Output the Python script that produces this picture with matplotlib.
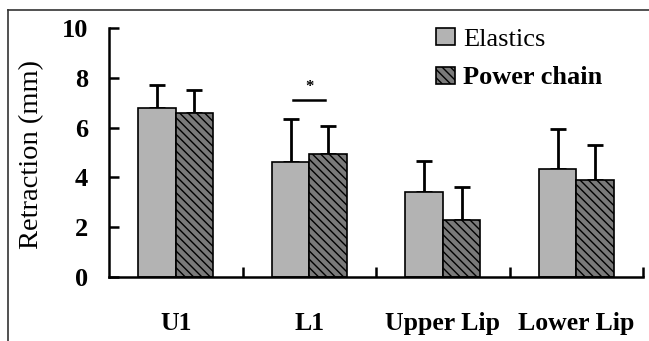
import matplotlib
matplotlib.use('Agg')
import matplotlib.pyplot as plt
from matplotlib.lines import Line2D
import numpy as np

categories = ['U1', 'L1', 'Upper Lip', 'Lower Lip']
elastics = [6.8, 4.6, 3.4, 4.35]
elastics_sd = [0.9, 1.75, 1.25, 1.6]
power_chain = [6.6, 4.95, 2.3, 3.9]
power_chain_sd = [0.9, 1.1, 1.3, 1.4]
yticks = [0, 2, 4, 6, 8, 10]

plt.rcParams['font.family'] = 'serif'
plt.rcParams['font.serif'] = ['Liberation Serif', 'DejaVu Serif']
plt.rcParams['hatch.linewidth'] = 1.0
plt.rcParams['hatch.color'] = '#666666'

fig = plt.figure(figsize=(6.49, 3.41), dpi=100)
ax = fig.add_axes([0.168, 0.188, 0.823, 0.730])

x = np.arange(len(categories))
w = 0.28
zeros = np.zeros(len(categories))

ax.bar(x - w / 2, elastics, w, color='#b3b3b3', edgecolor='black', linewidth=1.2,
       label='Elastics', zorder=2)
ax.bar(x + w / 2, power_chain, w, color='#7a7a7a', edgecolor='black', linewidth=1.2,
       hatch='\\\\\\\\', label='Power chain', zorder=2)
ax.errorbar(x - w / 2, elastics, yerr=[zeros, elastics_sd], fmt='none', ecolor='black',
            elinewidth=2, capsize=6, capthick=2, zorder=1)
ax.errorbar(x + w / 2, power_chain, yerr=[zeros, power_chain_sd], fmt='none', ecolor='black',
            elinewidth=2, capsize=6, capthick=2, zorder=1)

# significance marker on L1
ax.plot([1 - w / 2 + 0.02, 1 + w / 2 - 0.02], [7.1, 7.1], color='black', lw=1.8)
ax.text(1, 7.3, '*', ha='center', va='bottom', fontsize=12, fontweight='bold')

ax.set_xlim(-0.5, 3.5)
ax.set_ylim(0, 10)
ax.set_yticks(yticks)
ax.set_xticks(x)
ax.set_xticklabels(categories, fontsize=18.5, fontweight='bold')
ax.set_xticks(x + 0.5, minor=True)
ax.tick_params(axis='x', which='major', length=0, pad=25)
ax.tick_params(axis='x', which='minor', direction='in', length=7, width=1.8)
ax.tick_params(axis='y', direction='in', length=7, width=1.8, pad=15, labelsize=19)
for lab in ax.get_yticklabels():
    lab.set_fontweight('bold')

ax.spines['top'].set_visible(False)
ax.spines['right'].set_visible(False)
ax.spines['left'].set_linewidth(1.8)
ax.spines['bottom'].set_linewidth(1.8)

ax.set_ylabel('Retraction (mm)', fontsize=20.5)
ax.yaxis.set_label_coords(-0.122, 0.49)

leg = ax.legend(loc='upper left', bbox_to_anchor=(0.612, 1.0), frameon=False,
                fontsize=19, handlelength=0.72, handleheight=0.6, handletextpad=0.3,
                labelspacing=0.6, borderpad=0, borderaxespad=0)
leg.get_texts()[1].set_fontweight('bold')

# figure frame (top and left edges)
fig.add_artist(Line2D([8 / 649, 8 / 649], [0, 1 - 10 / 341], color='#333333', lw=1.2))
fig.add_artist(Line2D([8 / 649, 1], [1 - 10 / 341, 1 - 10 / 341], color='#333333', lw=1.2))

fig.savefig('out.png', dpi=100)
